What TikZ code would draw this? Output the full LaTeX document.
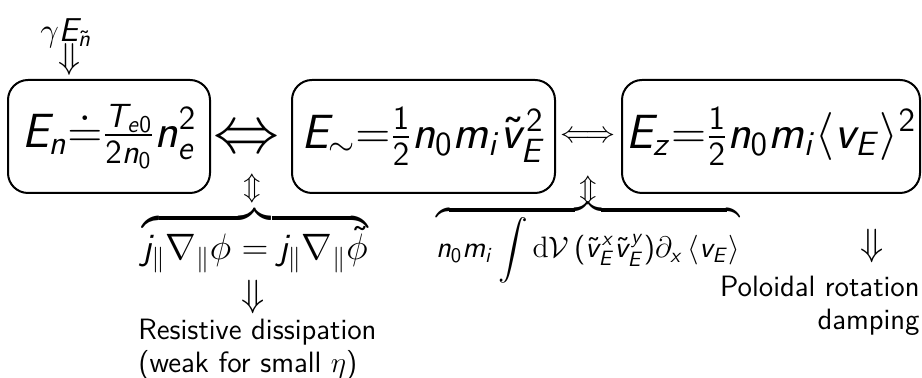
\RequirePackage{fix-cm}
\documentclass[tikz,border=0pt]{standalone}
\usepackage{amsmath,amssymb}
\usetikzlibrary{positioning}
\renewcommand{\familydefault}{\sfdefault}
% sans serif latin letters and digits in math
\DeclareSymbolFont{sfletters}{OT1}{cmss}{m}{sl}
\SetSymbolFont{operators}{normal}{OT1}{cmss}{m}{n}
\DeclareMathAlphabet{\mathserif}{OT1}{cmr}{m}{n}
\makeatletter
\@tfor\@tmpl:=abcdefghijklmnopqrstuvwxyzABCDEFGHIJKLMNOPQRSTUVWXYZ\do{%
  \edef\@tmpx{\noexpand\DeclareMathSymbol{\@tmpl}{\noexpand\mathalpha}{sfletters}{`\@tmpl}}\@tmpx}
\makeatother

\tikzset{
  energybox/.style={draw,line width=1pt,rounded corners=10pt,inner sep=0pt,
    minimum height=56.5pt,font=\fontsize{24}{28}\selectfont},
  arrowsym/.style={inner sep=0pt,font=\fontsize{19}{21}\selectfont},
  transfer/.style={inner sep=0pt,font=\fontsize{14}{16}\selectfont},
  notetext/.style={inner sep=0pt,font=\fontsize{14.7}{16.5}\selectfont},
}

\begin{document}
\begin{tikzpicture}[x=0.5pt,y=-0.5pt]
  \useasboundingbox (0,0) rectangle (922,378);
  % energy reservoirs
  \node[energybox,minimum width=101pt] (En) at (109,136.5) {$E_n{\doteq}\frac{T_{e0}}{2n_0}n_e^2$};
  \node[energybox,minimum width=131.5pt] (Ew) at (423.5,136.5) {$E_{\sim}{=}\frac{1}{2}n_0m_i\tilde{v}_E^2$};
  \node[energybox,minimum width=149pt] (Ez) at (771,136.5) {$E_z{=}\frac{1}{2}n_0m_i\langle v_E\rangle^2$};
  \node[inner sep=0pt,font=\fontsize{33}{36}\selectfont] (EnEw) at (246,140) {$\Leftrightarrow$};
  \node[inner sep=0pt,font=\fontsize{15}{17}\selectfont] (EwEz) at (588,137) {$\Longleftrightarrow$};
  % source
  \node[arrowsym,anchor=base,font=\fontsize{16.5}{18}\selectfont] (src) at (66,42) {$\gamma E_{\tilde n}$};
  \node[arrowsym,font=\fontsize{18}{20}\selectfont] (srcarr) at (69,60) {$\Downarrow$};
  % transfer terms
  \node[transfer] (tra) at (252,189) {$\Updownarrow$};
  \node[transfer] (trb) at (588,191) {$\Updownarrow$};
  \node[inner sep=0pt,anchor=base,font=\fontsize{18.4}{22}\selectfont] (jterm) at (255,260)
    {$\overbrace{j_{\|}\nabla_{\|}\phi=j_{\|}\nabla_{\|}\tilde{\phi}}$};
  \node[inner sep=0pt,anchor=base,font=\fontsize{14.8}{17}\selectfont] (rsterm) at (588,258)
    {$\displaystyle\overbrace{n_0m_i\int\mathserif{d}\mathcal{V}\,(\tilde{v}_E^x\tilde{v}_E^y)\partial_x\left\langle v_E\right\rangle}$};
  % sinks
  \node[arrowsym] (resarr) at (253,297) {$\Downarrow$};
  \node[notetext,align=left,anchor=north west] (res) at (138,319) {Resistive dissipation\\(weak for small $\eta$)};
  \node[arrowsym] (polarr) at (872,246) {$\Downarrow$};
  \node[notetext,align=right,anchor=north east] (pol) at (920,276) {Poloidal rotation\\damping};
\end{tikzpicture}
\end{document}
